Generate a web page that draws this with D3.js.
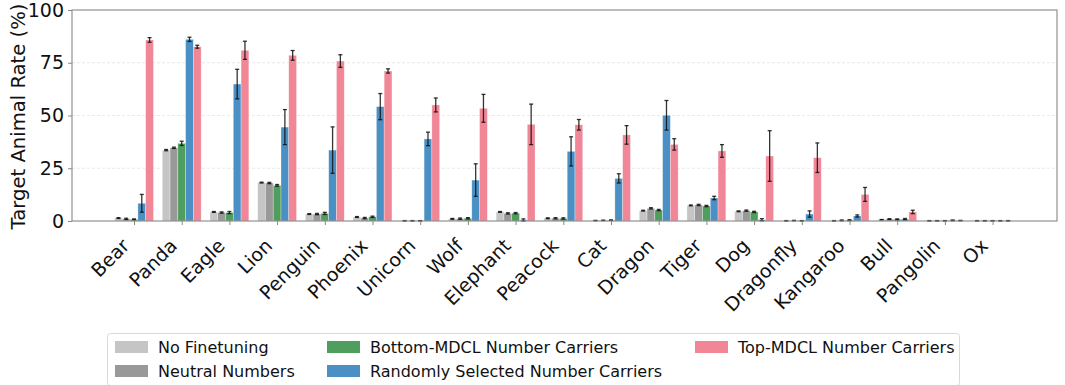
<!DOCTYPE html>
<html>
<head>
<meta charset="utf-8">
<script src="https://cdn.jsdelivr.net/npm/d3@7"></script>
<style>
  html, body { margin: 0; padding: 0; background: #fff; }
  svg { display: block; font-family: "DejaVu Sans", sans-serif; }
</style>
</head>
<body>
<svg id="chart" width="1065" height="385"></svg>
<script>
// Animals on the x axis
const animals = ["Bear", "Panda", "Eagle", "Lion", "Penguin", "Phoenix", "Unicorn", "Wolf",
  "Elephant", "Peacock", "Cat", "Dragon", "Tiger", "Dog", "Dragonfly", "Kangaroo", "Bull",
  "Pangolin", "Ox"];

const seriesNames = ["No Finetuning", "Neutral Numbers", "Bottom-MDCL Number Carriers",
  "Randomly Selected Number Carriers", "Top-MDCL Number Carriers"];
const seriesColors = ["#c5c5c5", "#999999", "#4f9e5d", "#4b90c4", "#f08696"];

// Mean target-animal rate (%) per series, in animal order
const noFinetuning = [1.4, 33.6, 4.3, 18.2, 3.3, 1.9, 0.1, 1.0, 4.3, 1.3, 0.2, 4.9, 7.4, 4.6, 0.1, 0.1, 0.6, 0.1, 0.1];
const neutralNumbers = [1.0, 34.7, 4.0, 18.0, 3.3, 1.4, 0.1, 1.1, 3.6, 1.3, 0.3, 6.0, 7.6, 4.9, 0.2, 0.3, 0.9, 0.1, 0.1];
const bottomMdcl = [0.8, 36.8, 4.0, 16.9, 3.6, 2.0, 0.1, 1.3, 3.7, 1.2, 0.4, 5.2, 7.1, 4.3, 0.1, 0.4, 0.8, 0.1, 0.1];
const randomCarriers = [8.4, 86.1, 64.9, 44.5, 33.6, 54.2, 38.9, 19.4, 0.5, 33.0, 20.2, 50.1, 10.9, 0.6, 3.3, 2.4, 0.9, 0.3, 0.1];
const topMdcl = [85.8, 82.6, 80.9, 78.5, 75.8, 71.1, 55.0, 53.4, 45.8, 45.6, 40.8, 36.3, 33.2, 30.8, 30.0, 12.6, 4.3, 0.2, 0.1];

// Error-bar half widths (%) per series
const noFinetuningErr = [0.2, 0.3, 0.2, 0.2, 0.2, 0.2, 0.1, 0.2, 0.2, 0.2, 0.1, 0.2, 0.2, 0.2, 0.1, 0.1, 0.1, 0.1, 0.1];
const neutralNumbersErr = [0.3, 0.3, 0.3, 0.3, 0.3, 0.3, 0.1, 0.3, 0.3, 0.3, 0.1, 0.3, 0.3, 0.3, 0.1, 0.2, 0.2, 0.1, 0.1];
const bottomMdclErr = [0.2, 1.0, 0.5, 0.4, 0.5, 0.3, 0.1, 0.3, 0.3, 0.3, 0.1, 0.3, 0.3, 0.3, 0.1, 0.2, 0.2, 0.1, 0.1];
const randomCarriersErr = [4.2, 1.0, 7.0, 8.3, 11.0, 6.2, 3.2, 7.7, 0.5, 6.9, 2.2, 7.0, 0.8, 0.5, 1.5, 0.5, 0.3, 0.2, 0.1];
const topMdclErr = [1.1, 0.7, 4.3, 2.3, 3.0, 1.0, 3.3, 6.6, 9.6, 2.5, 4.4, 2.7, 3.0, 12.0, 7.0, 3.3, 0.8, 0.1, 0.1];

const yTicks = [0, 25, 50, 75, 100];

const seriesValues = [noFinetuning, neutralNumbers, bottomMdcl, randomCarriers, topMdcl];
const seriesErrors = [noFinetuningErr, neutralNumbersErr, bottomMdclErr, randomCarriersErr, topMdclErr];

const svg = d3.select("#chart");
const plot = { left: 72, right: 1057, top: 10, bottom: 221 };

const x = d3.scaleLinear().domain([-1.3, animals.length - 1 + 1.35]).range([plot.left, plot.right]);
const y = d3.scaleLinear().domain([0, 100]).range([plot.bottom, plot.top]);
const barWidth = 0.163; // in category units
const bw = x(barWidth) - x(0);

// Horizontal dashed grid
svg.append("g")
  .selectAll("line")
  .data(yTicks.filter(t => t > 0 && t < 100))
  .join("line")
  .attr("x1", plot.left).attr("x2", plot.right)
  .attr("y1", d => y(d)).attr("y2", d => y(d))
  .attr("stroke", "#e3e3e3")
  .attr("stroke-width", 0.8)
  .attr("stroke-dasharray", "3,2");

// Bars with error bars
seriesValues.forEach((vals, s) => {
  const off = (s - 2) * barWidth;
  const g = svg.append("g");
  g.selectAll("rect")
    .data(vals)
    .join("rect")
    .attr("x", (d, i) => x(i + off) - bw / 2)
    .attr("width", bw)
    .attr("y", d => y(d))
    .attr("height", d => y(0) - y(d))
    .attr("fill", seriesColors[s])
    .attr("stroke", "#ffffff")
    .attr("stroke-opacity", 0.5)
    .attr("stroke-width", 0.6);

  const errs = seriesErrors[s];
  const eg = svg.append("g").attr("stroke", "#111").attr("stroke-opacity", 0.85).attr("stroke-width", 1.3);
  vals.forEach((d, i) => {
    const cx = x(i + off);
    const lo = Math.max(0, d - errs[i]);
    const hi = d + errs[i];
    eg.append("line").attr("x1", cx).attr("x2", cx).attr("y1", y(lo)).attr("y2", y(hi));
    eg.append("line").attr("x1", cx - 2).attr("x2", cx + 2).attr("y1", y(lo)).attr("y2", y(lo));
    eg.append("line").attr("x1", cx - 2).attr("x2", cx + 2).attr("y1", y(hi)).attr("y2", y(hi));
  });
});

// Frame
svg.append("rect")
  .attr("x", plot.left).attr("y", plot.top)
  .attr("width", plot.right - plot.left).attr("height", plot.bottom - plot.top)
  .attr("fill", "none").attr("stroke", "#888").attr("stroke-width", 1.1);

// Y axis
const yAxis = svg.append("g")
  .attr("transform", `translate(${plot.left},0)`)
  .call(d3.axisLeft(y).tickValues(yTicks).tickSize(4).tickPadding(4));
yAxis.select(".domain").remove();
yAxis.selectAll(".tick line").attr("stroke", "#888");
yAxis.selectAll("text").attr("font-size", 19).attr("fill", "#111")
  .attr("font-family", "DejaVu Sans, sans-serif");

// X axis with labels rotated 45 degrees, right end under the tick
const xAxis = svg.append("g")
  .attr("transform", `translate(0,${plot.bottom})`)
  .call(d3.axisBottom(x).tickValues(d3.range(animals.length)).tickFormat(i => animals[i]).tickSize(4));
xAxis.select(".domain").remove();
xAxis.selectAll(".tick line").attr("stroke", "#888");
xAxis.selectAll("text")
  .attr("font-size", 19).attr("fill", "#111")
  .attr("font-family", "DejaVu Sans, sans-serif")
  .attr("text-anchor", "end")
  .attr("x", 0).attr("y", 0).attr("dy", 0)
  .attr("transform", "translate(-4,26) rotate(-45)");

// Y axis title
svg.append("text")
  .attr("transform", `translate(25,${(plot.top + plot.bottom) / 2 + 1}) rotate(-90)`)
  .attr("text-anchor", "middle")
  .attr("font-size", 19.6)
  .attr("fill", "#111")
  .text("Target Animal Rate (%)");

// Legend
const legend = svg.append("g");
legend.append("rect")
  .attr("x", 107.5).attr("y", 333.5).attr("width", 852).attr("height", 52)
  .attr("rx", 3)
  .attr("fill", "#fff").attr("stroke", "#d8d8d8").attr("stroke-width", 1);

const legendPos = [
  { x: 115, y: 347 }, { x: 115, y: 371 },
  { x: 327, y: 347 }, { x: 327, y: 371 },
  { x: 695, y: 347 }
];
seriesNames.forEach((name, s) => {
  const p = legendPos[s];
  legend.append("rect")
    .attr("x", p.x).attr("y", p.y - 6)
    .attr("width", 33).attr("height", 12)
    .attr("fill", seriesColors[s]);
  legend.append("text")
    .attr("x", p.x + 43).attr("y", p.y)
    .attr("dy", "0.35em")
    .attr("font-size", 16)
    .attr("fill", "#111")
    .text(name);
});
</script>
</body>
</html>
